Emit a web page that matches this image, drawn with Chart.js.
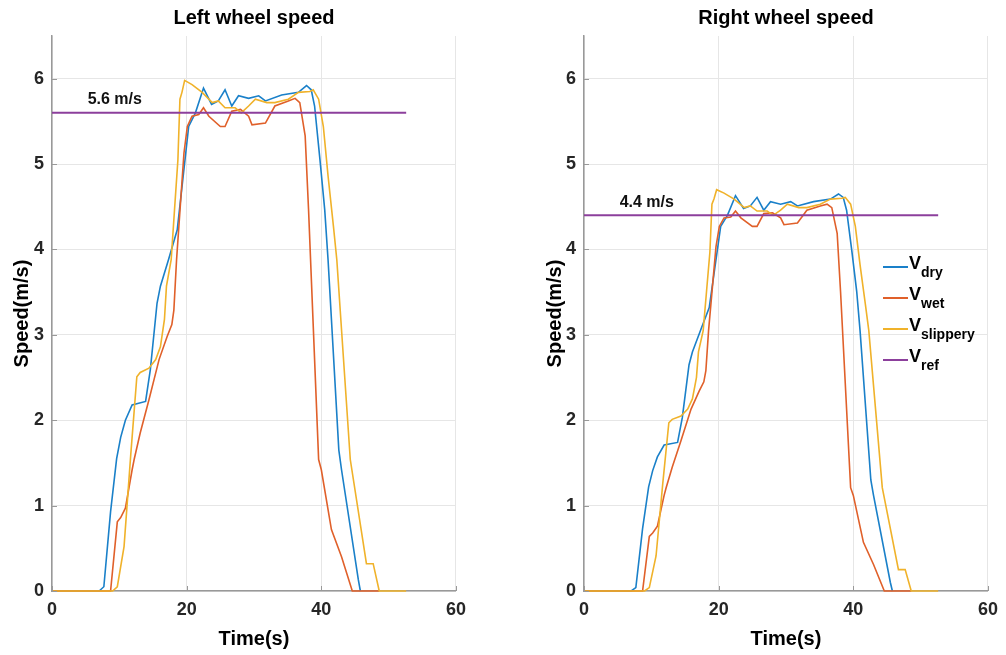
<!DOCTYPE html>
<html lang="en">
<head>
  <meta charset="UTF-8">
  <title>Wheel speed</title>
  <script src="https://cdn.jsdelivr.net/npm/chart.js"></script>
  <style>
    body {
      margin: 0;
      background: #fff;
      font-family: "Liberation Sans", Arial, sans-serif;
    }
    #wrap { position: relative; width: 1006px; height: 655px; }
    .plot { position: absolute; top: 0; }
    /* legend sits inside the right plot */
    #legend { position: absolute; left: 883px; top: 251px; }
    .row { position: relative; height: 31px; width: 110px; }
    .swatch { position: absolute; left: 0; top: 15px; width: 25px; height: 2px; }
    .lbl { position: absolute; left: 26px; top: 2px; font-weight: bold; font-size: 18px; line-height: 20px; color: #000; white-space: nowrap; }
    .lbl span { position: relative; top: 8px; font-size: 14px; }
  </style>
</head>
<body>
  <div id="wrap">
    <canvas id="leftChart" class="plot" width="474" height="655" style="left:0"></canvas>
    <canvas id="rightChart" class="plot" width="474" height="655" style="left:532px"></canvas>
    <div id="legend"></div>
  </div>

  <script>
    // Time stamps (s) for each run
    const tDry  = [0, 7, 7.7, 8.7, 9.6, 10.2, 10.9, 11.9, 13.9, 14.6, 15.6, 16.1, 17.3, 18.6, 20.3, 21.3, 22.5, 23.7, 24.7, 25.7,
                   26.7, 27.7, 29.2, 30.7, 31.7, 34.1, 36.6, 37.8, 38.5, 39.0, 39.8, 40.5, 41.0, 42.6, 43.0, 45.5, 45.8];
    const tWet  = [0, 8.7, 9.7, 10.2, 10.9, 11.9, 12.2, 13.1, 14.4, 15.9, 17.1, 17.8, 18.1, 18.5, 19.6, 20.1, 20.8, 21.8, 22.5, 23.3,
                   25.0, 25.7, 26.7, 28.0, 29.2, 29.7, 31.7, 33.1, 35.1, 36.1, 36.8, 37.6, 38.1, 39.6, 40.0, 41.5, 43.0, 44.6, 48.6];
    const tSlip = [0, 9.0, 9.7, 10.7, 11.7, 12.6, 13.1, 14.4, 15.4, 16.1, 16.7, 17.0, 17.7, 18.2, 18.7, 19.0, 19.3, 19.7, 20.8, 22.3,
                   23.8, 24.7, 25.7, 27.2, 28.1, 29.2, 30.2, 31.9, 33.1, 35.1, 36.6, 38.3, 38.8, 39.6, 40.3, 41.0, 41.8, 42.3, 44.3, 46.7,
                   47.7, 48.6, 52.6];
    const tRef  = [0, 52.6];

    // Left wheel speed (m/s)
    const leftDry  = [0, 0, 0.05, 0.93, 1.55, 1.8, 2.0, 2.18, 2.22, 2.59, 3.37, 3.57, 3.88, 4.23, 5.44, 5.6, 5.89, 5.70, 5.74, 5.87,
                      5.68, 5.80, 5.77, 5.80, 5.74, 5.81, 5.84, 5.92, 5.87, 5.68, 5.05, 4.47, 3.88, 1.65, 1.42, 0.13, 0];
    const leftWet  = [0, 0, 0.81, 0.86, 0.97, 1.42, 1.54, 1.85, 2.24, 2.71, 2.98, 3.12, 3.29, 3.88, 5.13, 5.44, 5.56, 5.58, 5.66, 5.56,
                      5.44, 5.44, 5.62, 5.64, 5.56, 5.46, 5.48, 5.68, 5.74, 5.77, 5.72, 5.33, 4.47, 1.54, 1.42, 0.72, 0.40, 0, 0];
    const leftSlip = [0, 0, 0.05, 0.52, 1.6, 2.51, 2.56, 2.61, 2.71, 2.86, 3.18, 3.57, 3.88, 4.47, 5.05, 5.76, 5.84, 5.98, 5.93, 5.84,
                      5.72, 5.74, 5.66, 5.66, 5.6, 5.68, 5.76, 5.72, 5.72, 5.76, 5.84, 5.85, 5.87, 5.76, 5.44, 4.86, 4.27, 3.88, 1.54, 0.32,
                      0.32, 0, 0];
    const leftRef  = [5.6, 5.6];

    // Right wheel speed (m/s)
    const rightDry  = [0, 0, 0.04, 0.73, 1.22, 1.41, 1.57, 1.71, 1.74, 2.03, 2.65, 2.80, 3.05, 3.32, 4.27, 4.40, 4.63, 4.48, 4.51, 4.61,
                       4.46, 4.56, 4.53, 4.56, 4.51, 4.56, 4.59, 4.65, 4.61, 4.46, 3.97, 3.51, 3.05, 1.30, 1.12, 0.10, 0];
    const rightWet  = [0, 0, 0.64, 0.68, 0.76, 1.12, 1.21, 1.45, 1.76, 2.13, 2.34, 2.45, 2.58, 3.05, 4.03, 4.27, 4.37, 4.38, 4.45, 4.37,
                       4.27, 4.27, 4.42, 4.43, 4.37, 4.29, 4.31, 4.46, 4.51, 4.53, 4.49, 4.19, 3.51, 1.21, 1.12, 0.57, 0.31, 0, 0];
    const rightSlip = [0, 0, 0.04, 0.41, 1.26, 1.97, 2.01, 2.05, 2.13, 2.25, 2.50, 2.80, 3.05, 3.51, 3.97, 4.53, 4.59, 4.70, 4.66, 4.59,
                       4.49, 4.51, 4.45, 4.45, 4.40, 4.46, 4.53, 4.49, 4.49, 4.53, 4.59, 4.60, 4.61, 4.53, 4.27, 3.82, 3.35, 3.05, 1.21, 0.25,
                       0.25, 0, 0];
    const rightRef  = [4.4, 4.4];

    // Legend entries: base letter + subscript
    const seriesNames  = ['dry', 'wet', 'slippery', 'ref'];
    const seriesColors = ['#1a80c9', '#e0602a', '#f0b22a', '#8c3f9c'];

    const xTicks = [0, 20, 40, 60];
    const yTicks = [0, 1, 2, 3, 4, 5, 6];

    const toPoints = (ts, vs) => ts.map((t, i) => ({ x: t, y: vs[i] }));

    // small inward tick marks like MATLAB
    const inwardTicks = {
      id: 'inwardTicks',
      afterDraw(chart) {
        const { ctx, chartArea: a, scales: { x, y } } = chart;
        ctx.save();
        ctx.strokeStyle = '#999';
        ctx.lineWidth = 1;
        ctx.beginPath();
        y.ticks.forEach(t => {
          const py = Math.round(y.getPixelForValue(t.value)) + 0.5;
          ctx.moveTo(a.left, py); ctx.lineTo(a.left + 5, py);
        });
        x.ticks.forEach(t => {
          const px = Math.round(x.getPixelForValue(t.value)) + 0.5;
          ctx.moveTo(px, a.bottom); ctx.lineTo(px, a.bottom - 5);
        });
        ctx.stroke();
        ctx.restore();
      }
    };

    // "5.6 m/s" style label above the reference line
    const refLabel = {
      id: 'refLabel',
      afterDatasetsDraw(chart, args, opts) {
        const { ctx, scales: { x, y } } = chart;
        ctx.save();
        ctx.font = 'bold 16px "Liberation Sans", Arial, sans-serif';
        ctx.fillStyle = '#111';
        ctx.textAlign = 'left';
        ctx.textBaseline = 'middle';
        ctx.fillText(opts.text, x.getPixelForValue(opts.x), y.getPixelForValue(opts.y));
        ctx.restore();
      }
    };

    function makeChart(id, title, dry, wet, slip, ref, refText, refTextY, yTitlePad) {
      const series = [dry, wet, slip, ref];
      const times = [tDry, tWet, tSlip, tRef];
      return new Chart(document.getElementById(id), {
        type: 'line',
        data: {
          datasets: series.map((s, i) => ({
            label: 'V' + seriesNames[i],
            data: toPoints(times[i], s),
            borderColor: seriesColors[i],
            backgroundColor: seriesColors[i],
            borderWidth: i === 3 ? 2 : 1.6,
            pointRadius: 0,
            tension: 0,
            fill: false,
            clip: false,
            order: 3 - i
          }))
        },
        options: {
          responsive: false,
          animation: false,
          layout: { padding: { left: 0, right: 17, top: 0, bottom: 0 } },
          plugins: {
            legend: { display: false },
            tooltip: { enabled: false },
            title: {
              display: true,
              text: title,
              fullSize: false,
              color: '#000',
              font: { family: '"Liberation Sans", Arial, sans-serif', size: 20, weight: 'bold' },
              padding: { top: 6, bottom: 6 }
            },
            refLabel: { text: refText, x: 5.3, y: refTextY }
          },
          scales: {
            x: {
              type: 'linear',
              min: 0, max: 60,
              afterBuildTicks: s => { s.ticks = xTicks.map(v => ({ value: v })); },
              afterFit: s => { s.height = 64; },
              ticks: {
                color: '#262626',
                padding: 8,
                font: { family: '"Liberation Sans", Arial, sans-serif', size: 18, weight: 'bold' }
              },
              grid: { color: '#e6e6e6', drawTicks: false },
              border: { display: true, color: '#999', width: 1.5 },
              title: {
                display: true,
                text: 'Time(s)',
                color: '#000',
                padding: { top: 0, bottom: 4 },
                font: { family: '"Liberation Sans", Arial, sans-serif', size: 20, weight: 'bold' }
              }
            },
            y: {
              min: 0, max: 6.5,
              afterBuildTicks: s => { s.ticks = yTicks.map(v => ({ value: v })); },
              afterFit: s => { s.width = 52; },
              ticks: {
                color: '#262626',
                padding: 8,
                font: { family: '"Liberation Sans", Arial, sans-serif', size: 18, weight: 'bold' }
              },
              grid: { color: '#e6e6e6', drawTicks: false },
              border: { display: true, color: '#999', width: 1.5 },
              title: {
                display: true,
                text: 'Speed(m/s)',
                color: '#000',
                padding: { top: yTitlePad, bottom: 0 },
                font: { family: '"Liberation Sans", Arial, sans-serif', size: 20, weight: 'bold' }
              }
            }
          }
        },
        plugins: [inwardTicks, refLabel]
      });
    }

    const leftChart  = makeChart('leftChart', 'Left wheel speed', leftDry, leftWet, leftSlip, leftRef, '5.6 m/s', 5.76, 10);
    const rightChart = makeChart('rightChart', 'Right wheel speed', rightDry, rightWet, rightSlip, rightRef, '4.4 m/s', 4.55, 11);

    // HTML legend with subscripts
    const legend = document.getElementById('legend');
    seriesNames.forEach((name, i) => {
      const row = document.createElement('div');
      row.className = 'row';
      row.innerHTML = '<div class="swatch" style="background:' + seriesColors[i] + '"></div>' +
                      '<div class="lbl">V<span>' + name + '</span></div>';
      legend.appendChild(row);
    });
  </script>
</body>
</html>
